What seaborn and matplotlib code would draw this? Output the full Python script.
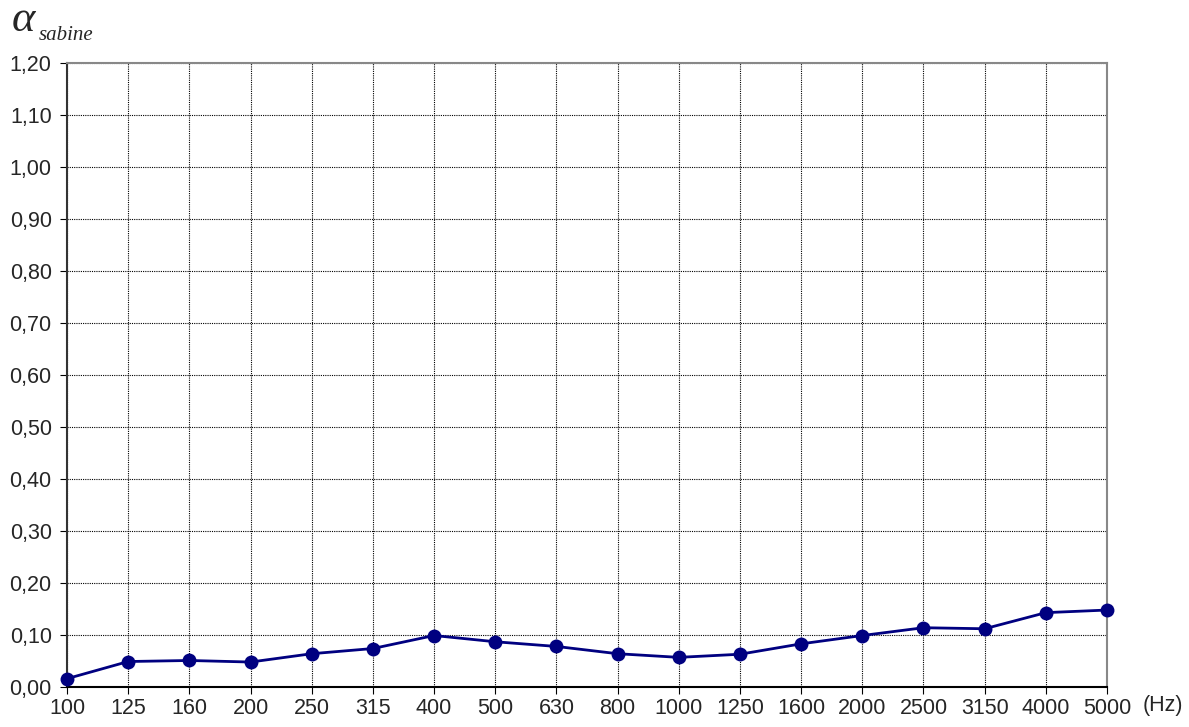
import numpy as np
import seaborn as sns
import pandas as pd
import matplotlib.pyplot as plt

freqs = ["100", "125", "160", "200", "250", "315", "400", "500", "630", "800",
         "1000", "1250", "1600", "2000", "2500", "3150", "4000", "5000"]
alpha = [0.016, 0.049, 0.051, 0.048, 0.064, 0.074, 0.099, 0.087, 0.078, 0.064,
         0.057, 0.063, 0.083, 0.099, 0.114, 0.112, 0.143, 0.148]
y_ticks = [0.0, 0.1, 0.2, 0.3, 0.4, 0.5, 0.6, 0.7, 0.8, 0.9, 1.0, 1.1, 1.2]

sns.set_style("white")
plt.rcParams['font.family'] = ['Liberation Sans', 'DejaVu Sans']

df = pd.DataFrame({"freq": freqs, "alpha": alpha})

fig = plt.figure(figsize=(11.89, 7.27), dpi=100)
ax = fig.add_axes([67 / 1189, 1 - 687 / 727, 1040 / 1189, 624 / 727])

sns.lineplot(data=df, x="freq", y="alpha", ax=ax, color="#000080",
             marker="o", markersize=10, linewidth=2.0, markeredgewidth=0,
             sort=False, clip_on=False, zorder=5)

ax.set_xlim(0, len(freqs) - 1)
ax.set_ylim(0, 1.2)
ax.set_xticks(range(len(freqs)))
ax.set_xticklabels(freqs)
ax.set_yticks(y_ticks)
ax.set_yticklabels([("%.2f" % v).replace(".", ",") for v in y_ticks])
ax.grid(True, color="black", linestyle=(0, (1, 1)), linewidth=0.8)
ax.set_axisbelow(True)

ax.spines["left"].set_color("#333333")
ax.spines["bottom"].set_color("black")
ax.spines["top"].set_color("#888888")
ax.spines["right"].set_color("#888888")
for s in ax.spines.values():
    s.set_linewidth(1.5)

ax.tick_params(axis="both", which="major", labelsize=15.5, length=5,
               direction="out", color="black", left=True, bottom=True)
ax.tick_params(axis="x", pad=3)
ax.tick_params(axis="y", pad=6)
ax.set_xlabel("")
ax.set_ylabel("")

fig.text(1143 / 1189, 1 - 705 / 727, "(Hz)", fontsize=15.5,
         ha="left", va="center")
fig.text(12 / 1189, 1 - 20 / 727, "α", family="Liberation Serif",
         style="italic", fontsize=32, ha="left", va="center")
fig.text(39 / 1189, 1 - 35 / 727, "sabine", family="Liberation Serif",
         style="italic", fontsize=15, ha="left", va="center")

fig.savefig("out.png", dpi=100)
